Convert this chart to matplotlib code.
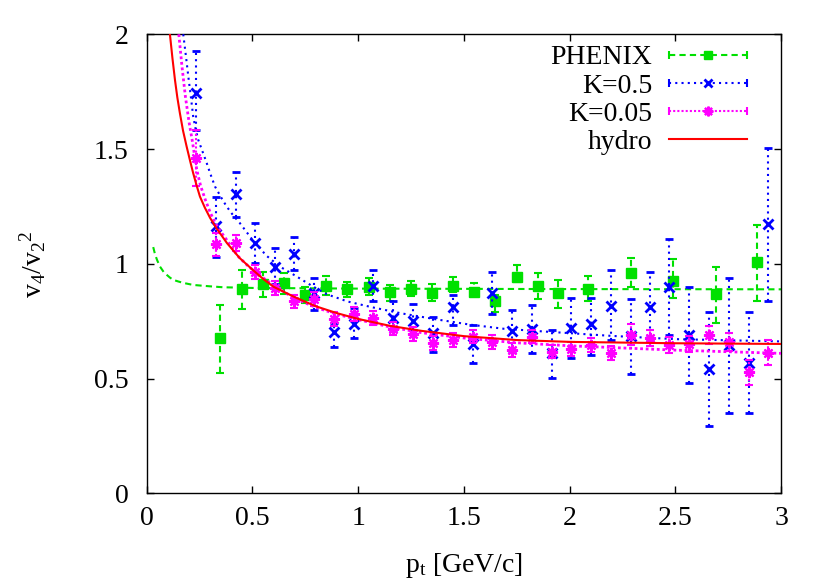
import matplotlib
matplotlib.use("Agg")
import matplotlib.pyplot as plt
from matplotlib.lines import Line2D
from matplotlib.legend_handler import HandlerLine2D, HandlerTuple

plt.rcParams['font.family'] = ['Liberation Serif', 'DejaVu Serif']
plt.rcParams['mathtext.fontset'] = 'custom'
plt.rcParams['mathtext.rm'] = 'Liberation Serif'
plt.rcParams['mathtext.it'] = 'Liberation Serif:italic'

# --- PHENIX data ---
phx_x = [0.347, 0.449, 0.548, 0.649, 0.748, 0.846, 0.948, 1.05, 1.15, 1.248, 1.348, 1.45,
         1.549, 1.648, 1.749, 1.849, 1.946, 2.088, 2.288, 2.49, 2.69, 2.887]
phx_y = [0.675, 0.890, 0.913, 0.916, 0.865, 0.904, 0.890, 0.898, 0.877, 0.892, 0.875, 0.904,
         0.878, 0.839, 0.942, 0.904, 0.872, 0.891, 0.960, 0.927, 0.869, 1.007]
phx_lo = [0.523, 0.804, 0.857, 0.870, 0.830, 0.865, 0.857, 0.865, 0.836, 0.860, 0.840, 0.879,
          0.863, 0.788, 0.923, 0.846, 0.807, 0.836, 0.901, 0.850, 0.744, 0.840]
phx_hi = [0.821, 0.974, 0.966, 0.960, 0.900, 0.945, 0.923, 0.938, 0.908, 0.927, 0.913, 0.942,
          0.918, 0.865, 0.996, 0.960, 0.930, 0.945, 1.027, 1.020, 0.988, 1.170]

# --- K=0.5 ---
k5_x = [0.233, 0.328, 0.422, 0.514, 0.607, 0.698, 0.791, 0.887, 0.980, 1.071, 1.166, 1.261,
        1.352, 1.447, 1.541, 1.633, 1.727, 1.820, 1.915, 2.006, 2.099, 2.194, 2.288, 2.380,
        2.471, 2.566, 2.659, 2.753, 2.848, 2.939]
k5_y = [1.744, 1.163, 1.305, 1.090, 0.988, 1.042, 0.872, 0.702, 0.737, 0.904, 0.763, 0.751,
        0.698, 0.814, 0.651, 0.875, 0.708, 0.715, 0.613, 0.720, 0.737, 0.817, 0.685, 0.814,
        0.901, 0.690, 0.541, 0.647, 0.567, 1.173]
k5_lo = [1.584, 1.030, 1.206, 1.003, 0.910, 0.974, 0.800, 0.637, 0.676, 0.836, 0.712, 0.712,
         0.618, 0.734, 0.567, 0.781, 0.620, 0.611, 0.502, 0.589, 0.603, 0.669, 0.520, 0.664,
         0.690, 0.483, 0.294, 0.352, 0.349, 0.836]
k5_hi = [1.926, 1.293, 1.402, 1.177, 1.068, 1.116, 0.938, 0.741, 0.807, 0.974, 0.836, 0.826,
         0.770, 0.865, 0.734, 0.966, 0.800, 0.821, 0.712, 0.850, 0.850, 0.974, 0.847, 0.964,
         1.110, 0.898, 0.788, 0.940, 0.792, 1.504]

# --- K=0.05 ---
k05_x = k5_x
k05_y = [1.461, 1.085, 1.090, 0.963, 0.894, 0.836, 0.847, 0.759, 0.781, 0.763, 0.718, 0.696,
         0.654, 0.667, 0.683, 0.659, 0.625, 0.683, 0.618, 0.630, 0.645, 0.611, 0.692, 0.678,
         0.645, 0.652, 0.690, 0.659, 0.528, 0.613]
k05_err = [0.12, 0.05, 0.035, 0.03, 0.03, 0.03, 0.03, 0.03, 0.03, 0.03, 0.03, 0.03,
           0.03, 0.03, 0.03, 0.03, 0.03, 0.03, 0.03, 0.03, 0.03, 0.03, 0.045, 0.035,
           0.035, 0.035, 0.04, 0.04, 0.055, 0.055]

# --- curves ---
phx_fit_x = [0.031, 0.04, 0.05, 0.063, 0.08, 0.095, 0.11, 0.126, 0.15, 0.173, 0.22, 0.30,
             0.36, 0.5, 1.0, 2.0, 3.0]
phx_fit_y = [1.073, 1.040, 1.015, 0.988, 0.965, 0.952, 0.940, 0.930, 0.923, 0.917, 0.908,
             0.902, 0.898, 0.895, 0.892, 0.890, 0.889]

k5_fit_x = [0.173, 0.185, 0.197, 0.21, 0.22, 0.232, 0.244, 0.265, 0.284, 0.30, 0.323, 0.355,
            0.378, 0.41, 0.441, 0.504, 0.567, 0.63, 0.70, 0.78, 0.85, 0.95, 1.06, 1.20, 1.37,
            1.53, 1.69, 1.85, 2.00, 2.20, 2.50, 3.00]
k5_fit_y = [2.00, 1.91, 1.816, 1.72, 1.642, 1.585, 1.54, 1.487, 1.439, 1.395, 1.337, 1.285,
            1.25, 1.21, 1.177, 1.10, 1.035, 0.988, 0.950, 0.905, 0.868, 0.836, 0.812, 0.785,
            0.758, 0.735, 0.717, 0.707, 0.698, 0.686, 0.672, 0.662]

k05_fit_x = [0.152, 0.167, 0.183, 0.20, 0.215, 0.237, 0.255, 0.277, 0.30, 0.323, 0.35, 0.378,
             0.43, 0.48, 0.52, 0.60, 0.70, 0.80, 0.90, 1.00, 1.15, 1.30, 1.50, 1.75, 2.00,
             2.50, 3.00]
k05_fit_y = [2.00, 1.86, 1.73, 1.62, 1.54, 1.41, 1.34, 1.28, 1.225, 1.18, 1.14, 1.105,
             1.035, 0.99, 0.96, 0.905, 0.85, 0.81, 0.78, 0.757, 0.725, 0.70, 0.677, 0.656,
             0.643, 0.624, 0.610]

hydro_x = [0.110, 0.122, 0.134, 0.145, 0.157, 0.172, 0.189, 0.205, 0.220, 0.236, 0.252, 0.275,
           0.30, 0.33, 0.38, 0.44, 0.50, 0.55, 0.60, 0.70, 0.80, 0.90, 1.00, 1.15, 1.30, 1.50,
           1.75, 2.00, 2.50, 3.00]
hydro_y = [2.00, 1.895, 1.80, 1.725, 1.657, 1.58, 1.511, 1.45, 1.395, 1.342, 1.293, 1.245,
           1.20, 1.155, 1.09, 1.025, 0.975, 0.935, 0.90, 0.855, 0.815, 0.785, 0.760, 0.730,
           0.708, 0.685, 0.668, 0.660, 0.654, 0.651]

GREEN = '#00e000'
BLUE = '#0000ff'
MAGENTA = '#ff00ff'
RED = '#ff0000'
dash = (0, (3, 2))
dot = (0, (1, 2))
fine = (0, (1, 1))

fig = plt.figure(figsize=(8.3, 5.81), dpi=100)
ax = fig.add_axes([0.1767, 0.1508, 0.7644, 0.7902])

# PHENIX
ax.plot(phx_fit_x, phx_fit_y, color=GREEN, lw=1.5, ls=dash, zorder=2)
eb = ax.errorbar(phx_x, phx_y,
                 yerr=[[y - l for y, l in zip(phx_y, phx_lo)], [h - y for y, h in zip(phx_y, phx_hi)]],
                 fmt='s', color=GREEN, ms=6.5, elinewidth=1.5, capsize=3, capthick=1.5, zorder=2)
eb[2][0].set_linestyle(dash)

# K=0.5
ax.plot(k5_fit_x, k5_fit_y, color=BLUE, lw=1.5, ls=dot, zorder=3)
eb = ax.errorbar(k5_x, k5_y,
                 yerr=[[y - l for y, l in zip(k5_y, k5_lo)], [h - y for y, h in zip(k5_y, k5_hi)]],
                 fmt='x', color=BLUE, ms=7, mew=2, elinewidth=1.5, capsize=3, capthick=1.5, zorder=3)
eb[2][0].set_linestyle(dot)

# K=0.05
ax.plot(k05_fit_x, k05_fit_y, color=MAGENTA, lw=2, ls=fine, zorder=4)
eb = ax.errorbar(k05_x, k05_y, yerr=k05_err,
                 fmt='none', ecolor=MAGENTA, elinewidth=1.5, capsize=3, capthick=1.5, zorder=4)
eb[2][0].set_linestyle(fine)
ax.plot(k05_x, k05_y, ls='none', marker=(8, 2, 0), color=MAGENTA, ms=8, mew=1.6, zorder=4)

# hydro
ax.plot(hydro_x, hydro_y, color=RED, lw=1.5, zorder=5)

ax.set_xlim(0, 3)
ax.set_ylim(0, 2)
ax.set_xticks([0, 0.5, 1, 1.5, 2, 2.5, 3])
ax.set_xticklabels(['0', '0.5', '1', '1.5', '2', '2.5', '3'])
ax.set_yticks([0, 0.5, 1, 1.5, 2])
ax.set_yticklabels(['0', '0.5', '1', '1.5', '2'])
ax.tick_params(direction='in', top=True, right=True, length=5, width=1, labelsize=20)
ax.tick_params(axis='x', pad=9)
ax.tick_params(axis='y', pad=13)
for s in ax.spines.values():
    s.set_linewidth(1)

ax.set_xlabel(r'$\mathrm{p_t}$ [GeV/c]', fontsize=20)
ax.xaxis.set_label_coords(0.5, -0.125)
ax.set_ylabel(r'$\mathrm{v_4/v_2{}^2}$', fontsize=20)
ax.yaxis.set_label_coords(-0.155, 0.5)

# legend in gnuplot style: label, line with marker, end marks
def entry(color, ls, marker=None, ms=6, mew=1):
    ln = Line2D([], [], color=color, ls=ls, lw=1.5, marker=marker, ms=ms, mew=mew)
    cap = Line2D([], [], color=color, ls='none', marker='|', ms=6, mew=1.5)
    return (ln, cap), cap

h1, c1 = entry(GREEN, dash, 's', 6)
h2, c2 = entry(BLUE, dot, 'x', 6, 2)
h3, c3 = entry(MAGENTA, fine, (8, 2, 0), 7, 1.6)
h4 = Line2D([], [], color=RED, lw=1.5)
hm = {tuple: HandlerTuple(ndivide=1, pad=0)}
for c in (c1, c2, c3):
    hm[c] = HandlerLine2D(numpoints=2, marker_pad=0)
ax.legend([h1, h2, h3, h4], ['PHENIX', 'K=0.5', 'K=0.05', 'hydro'],
          handler_map=hm, loc='upper right', bbox_to_anchor=(0.946, 0.977),
          frameon=False, markerfirst=False, fontsize=20, numpoints=1,
          handlelength=2.8, handletextpad=0.6, labelspacing=0.1,
          borderpad=0, borderaxespad=0)

fig.savefig('out.png', dpi=100)
